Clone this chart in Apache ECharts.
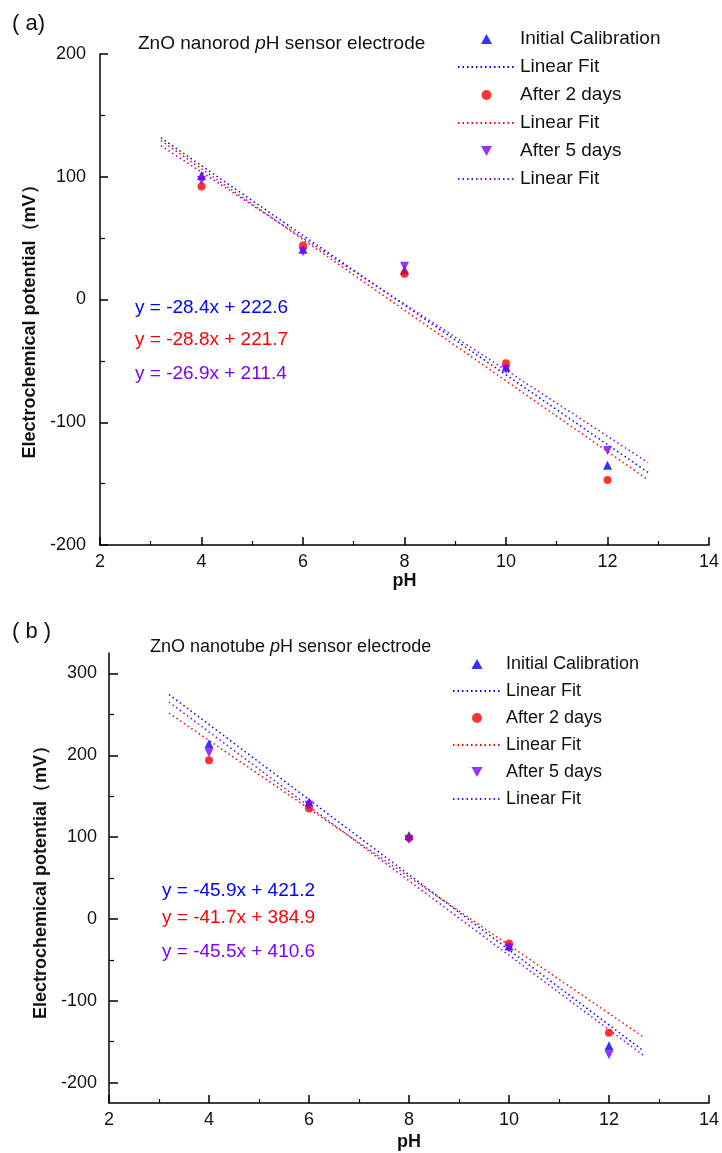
<!DOCTYPE html>
<html>
<head>
<meta charset="utf-8">
<script src="https://cdn.jsdelivr.net/npm/echarts@6/dist/echarts.min.js"></script>
<style>
  html, body { margin: 0; padding: 0; background: #fff; }
  #chart { width: 722px; height: 1153px; }
</style>
</head>
<body>
<div id="chart"></div>
<script>
// pH of the buffer solutions
const phValues = [4, 6, 8, 10, 12];

// (a) ZnO nanorod electrode, mV
const rodInitial = [101, 41, 24, -55, -135];
const rodDay2 = [92, 44, 21, -52, -147];
const rodDay5 = [97, 39, 27, -57, -123];
// fitted lines, end points
const rodFitX = [3.2, 12.8];
const rodFitInitial = [131.7, -140.9];
const rodFitDay2 = [129.5, -146.9];
const rodFitDay5 = [125.3, -132.9];
const rodEquations = ['y = -28.4x + 222.6', 'y = -28.8x + 221.7', 'y = -26.9x + 211.4'];

// (b) ZnO nanotube electrode, mV
const tubeInitial = [214, 143, 102, -33, -155];
const tubeDay2 = [194, 135, 99, -30, -139];
const tubeDay5 = [203, 139, 97, -36, -166];
const tubeFitX = [3.2, 12.7];
const tubeFitInitial = [274.3, -161.7];
const tubeFitDay2 = [251.5, -144.7];
const tubeFitDay5 = [265.0, -167.3];
const tubeEquations = ['y = -45.9x + 421.2', 'y = -41.7x + 384.9', 'y = -45.5x + 410.6'];

// axis ticks of panel (b)
const tubeYTicks = [-200, -100, 0, 100, 200, 300];
const tubeYMinorTicks = [-150, -50, 50, 150, 250];

const BLUE = '#0000ff';
const RED = '#ff0000';
const VIOLET = '#8000ff';
const FONT = 'Liberation Sans, Arial, sans-serif';
const UP_TRIANGLE = 'path://M5,0 L10,9 L0,9 Z';
const DOWN_TRIANGLE = 'path://M0,0 L10,0 L5,9 Z';

function pairs(xs, ys) {
  return xs.map((x, i) => [x, ys[i]]);
}

function scatter(name, data, color, symbol, size, idx) {
  return {
    name: name, type: 'scatter', xAxisIndex: idx, yAxisIndex: idx,
    data: data, symbol: symbol, symbolSize: size,
    itemStyle: { color: color }, z: 3
  };
}

function fitLine(name, data, color, idx) {
  return {
    name: name, type: 'line', xAxisIndex: idx, yAxisIndex: idx,
    data: data, symbol: 'none', silent: true,
    lineStyle: { color: color, width: 1.5, type: [1.5, 3] },
    itemStyle: { color: color }
  };
}

function xAxisFor(grid, nameGap) {
  return {
    type: 'value', gridIndex: grid, min: 2, max: 14, interval: 2,
    name: 'pH', nameLocation: 'middle', nameGap: nameGap,
    nameTextStyle: { fontFamily: FONT, fontSize: 18, fontWeight: 'bold', color: '#111' },
    axisLine: { onZero: false, lineStyle: { color: '#000', width: 1.5 } },
    axisTick: { inside: true, length: 8, lineStyle: { color: '#000', width: 1.5 } },
    minorTick: { show: true, splitNumber: 2, length: 4, lineStyle: { color: '#000', width: 1.2 } },
    axisLabel: { fontFamily: FONT, fontSize: 18, color: '#111', margin: 8 },
    splitLine: { show: false }
  };
}

// legend rows: scatter symbols plus dotted lines without a symbol
function legendRows(names) {
  return names.map(n => n.startsWith('Linear Fit')
    ? { name: n, itemStyle: { opacity: 0 } }
    : { name: n });
}

const yName = 'Electrochemical potential（mV）';
const yNameStyle = { fontFamily: FONT, fontSize: 18, fontWeight: 'bold', color: '#111' };

const chart = echarts.init(document.getElementById('chart'));

chart.setOption({
  backgroundColor: '#fff',
  animation: false,
  grid: [
    { left: 100, right: 13, top: 54, bottom: 608 },
    { left: 109, right: 10, top: 653, bottom: 50 }
  ],
  xAxis: [xAxisFor(0, 27), xAxisFor(1, 30)],
  yAxis: [
    {
      type: 'value', gridIndex: 0, min: -200, max: 200, interval: 100,
      name: yName, nameLocation: 'middle', nameGap: 60,
      nameTextStyle: Object.assign({ padding: [0, 36, 0, 0] }, yNameStyle),
      axisLine: { show: true, onZero: false, lineStyle: { color: '#000', width: 1.5 } },
      axisTick: { inside: true, length: 8, lineStyle: { color: '#000', width: 1.5 } },
      minorTick: { show: true, splitNumber: 2, length: 5, lineStyle: { color: '#000', width: 1.2 } },
      axisLabel: { fontFamily: FONT, fontSize: 18, color: '#111', margin: 14 },
      splitLine: { show: false }
    },
    {
      type: 'value', gridIndex: 1, position: 'left', min: -225, max: 325,
      name: yName, nameLocation: 'middle', nameGap: 53,
      nameTextStyle: yNameStyle,
      axisLine: { show: true, onZero: false, lineStyle: { color: '#000', width: 1.5 } },
      axisTick: { inside: true, length: 9, customValues: tubeYTicks, lineStyle: { color: '#000', width: 1.5 } },
      axisLabel: { fontFamily: FONT, fontSize: 18, color: '#111', margin: 12, customValues: tubeYTicks },
      splitLine: { show: false }
    },
    {
      // minor ticks of panel (b)
      type: 'value', gridIndex: 1, position: 'left', offset: 0, min: -225, max: 325,
      axisLine: { show: false, onZero: false },
      axisTick: { show: true, inside: true, length: 5, customValues: tubeYMinorTicks, lineStyle: { color: '#000', width: 1.2 } },
      axisLabel: { show: false },
      splitLine: { show: false }
    }
  ],
  legend: [
    {
      orient: 'vertical', left: 457, top: 29, padding: 0,
      itemWidth: 57, itemHeight: 10, itemGap: 8, symbolKeepAspect: true,
      formatter: n => n.split('|')[0],
      textStyle: { fontFamily: FONT, fontSize: 19, lineHeight: 20, color: '#111' },
      data: legendRows(['Initial Calibration|a', 'Linear Fit|a1', 'After 2 days|a', 'Linear Fit|a2', 'After 5 days|a', 'Linear Fit|a3'])
    },
    {
      orient: 'vertical', left: 452, top: 654, padding: 0,
      itemWidth: 48, itemHeight: 10, itemGap: 7, symbolKeepAspect: true,
      formatter: n => n.split('|')[0],
      textStyle: { fontFamily: FONT, fontSize: 18, lineHeight: 20, color: '#111' },
      data: legendRows(['Initial Calibration|b', 'Linear Fit|b1', 'After 2 days|b', 'Linear Fit|b2', 'After 5 days|b', 'Linear Fit|b3'])
    }
  ],
  graphic: [
    { type: 'text', left: 12, top: 13, style: { text: '( a)', font: '22px ' + FONT, fill: '#111' } },
    { type: 'text', left: 138, top: 34, style: { text: 'ZnO nanorod {i|p}H sensor electrode', font: '19px ' + FONT, fill: '#111', rich: { i: { fontStyle: 'italic', fontSize: 19, fontFamily: FONT } } } },
    { type: 'text', left: 135, top: 298, style: { text: rodEquations[0], font: '19px ' + FONT, fill: BLUE } },
    { type: 'text', left: 135, top: 330, style: { text: rodEquations[1], font: '19px ' + FONT, fill: RED } },
    { type: 'text', left: 135, top: 364, style: { text: rodEquations[2], font: '19px ' + FONT, fill: VIOLET } },
    { type: 'text', left: 12, top: 621, style: { text: '( b )', font: '22px ' + FONT, fill: '#111' } },
    { type: 'text', left: 150, top: 638, style: { text: 'ZnO nanotube {i|p}H sensor electrode', font: '18px ' + FONT, fill: '#111', rich: { i: { fontStyle: 'italic', fontSize: 18, fontFamily: FONT } } } },
    { type: 'text', left: 162, top: 881, style: { text: tubeEquations[0], font: '19px ' + FONT, fill: BLUE } },
    { type: 'text', left: 162, top: 908, style: { text: tubeEquations[1], font: '19px ' + FONT, fill: RED } },
    { type: 'text', left: 162, top: 942, style: { text: tubeEquations[2], font: '19px ' + FONT, fill: VIOLET } }
  ],
  series: [
    scatter('Initial Calibration|a', pairs(phValues, rodInitial), BLUE, UP_TRIANGLE, 9, 0),
    fitLine('Linear Fit|a1', pairs(rodFitX, rodFitInitial), BLUE, 0),
    scatter('After 2 days|a', pairs(phValues, rodDay2), RED, 'circle', 8, 0),
    fitLine('Linear Fit|a2', pairs(rodFitX, rodFitDay2), RED, 0),
    scatter('After 5 days|a', pairs(phValues, rodDay5), VIOLET, DOWN_TRIANGLE, 9, 0),
    fitLine('Linear Fit|a3', pairs(rodFitX, rodFitDay5), VIOLET, 0),

    scatter('Initial Calibration|b', pairs(phValues, tubeInitial), BLUE, UP_TRIANGLE, 9, 1),
    fitLine('Linear Fit|b1', pairs(tubeFitX, tubeFitInitial), BLUE, 1),
    scatter('After 2 days|b', pairs(phValues, tubeDay2), RED, 'circle', 8, 1),
    fitLine('Linear Fit|b2', pairs(tubeFitX, tubeFitDay2), RED, 1),
    scatter('After 5 days|b', pairs(phValues, tubeDay5), VIOLET, DOWN_TRIANGLE, 9, 1),
    fitLine('Linear Fit|b3', pairs(tubeFitX, tubeFitDay5), VIOLET, 1)
  ]
});
</script>
</body>
</html>
